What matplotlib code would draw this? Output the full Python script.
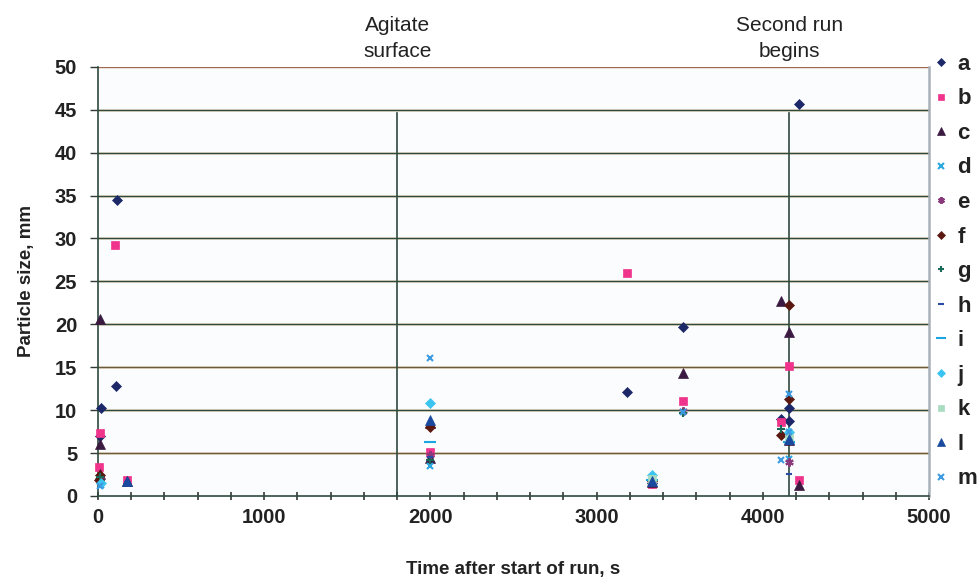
import matplotlib
matplotlib.use('Agg')
import matplotlib.pyplot as plt
from matplotlib.ticker import MultipleLocator
from matplotlib.lines import Line2D

plt.rcParams['font.family'] = ['Liberation Sans', 'DejaVu Sans']

# Series data (time s, particle size mm)
labels = ['a', 'b', 'c', 'd', 'e', 'f', 'g', 'h', 'i', 'j', 'k', 'l', 'm']

a_x = [20, 10, 110, 114, 3180, 3520, 4110, 4160, 4160, 4220, 3330]
a_y = [10.3, 7.0, 12.8, 34.5, 12.1, 19.7, 9.0, 10.3, 8.7, 45.7, 1.5]
b_x = [15, 5, 100, 175, 2000, 3180, 3520, 4110, 4160, 4220, 3330]
b_y = [7.3, 3.4, 29.2, 1.9, 5.1, 26.0, 11.1, 8.6, 15.2, 1.9, 1.4]
c_x = [15, 15, 10, 175, 2000, 2000, 3520, 4110, 4160, 4160, 4220, 3330]
c_y = [20.6, 6.1, 2.6, 1.8, 4.4, 8.5, 14.3, 22.7, 19.1, 6.5, 1.3, 1.6]
d_x = [20, 2000, 3330, 4160]
d_y = [1.3, 3.5, 2.2, 4.3]
e_x = [10, 2000, 3520, 4160]
e_y = [2.0, 4.8, 9.9, 4.0]
f_x = [15, 5, 2000, 4110, 4160, 4160, 3330]
f_y = [2.4, 1.9, 8.0, 7.1, 22.3, 11.3, 1.8]
g_x = [10, 4110, 3520, 2000]
g_y = [2.2, 7.8, 9.7, 4.2]
h_x = [4160, 175, 2000, 4160]
h_y = [6.0, 1.6, 4.6, 2.6]
i_x = [2000, 4160, 3330]
i_y = [6.3, 6.3, 1.9]
j_x = [2000, 3330, 20, 4160]
j_y = [10.8, 2.5, 1.5, 7.4]
k_x = [3330, 4160]
k_y = [2.0, 6.8]
l_x = [2000, 175, 3330, 4160]
l_y = [8.8, 1.7, 1.7, 6.6]
m_x = [2000, 4160, 4160, 4110, 3520, 10]
m_y = [16.1, 11.9, 7.5, 4.2, 9.8, 1.2]

xs = [a_x, b_x, c_x, d_x, e_x, f_x, g_x, h_x, i_x, j_x, k_x, l_x, m_x]
ys = [a_y, b_y, c_y, d_y, e_y, f_y, g_y, h_y, i_y, j_y, k_y, l_y, m_y]

# marker, colour, size
styles = [
    ('D', '#1c2868', 5.5),
    ('s', '#f0348c', 6),
    ('^', '#3a1a40', 7),
    ('x', '#2aa8e0', 5),
    ((6, 2, 0), '#8a3a7a', 6),
    ('D', '#5a1810', 5.5),
    ('+', '#1a6a5a', 6),
    ('_', '#2a4aa8', 5),
    ('_', '#1aa6e0', 9),
    ('D', '#3cc4f0', 5),
    ('s', '#a8dcc0', 6),
    ('^', '#1a4aa0', 7),
    ('x', '#3c9ae0', 5),
]

events_x = [1800, 4160]
events_text = ['Agitate\nsurface', 'Second run\nbegins']

fig = plt.figure(figsize=(9.77, 5.84), dpi=100)
ax = fig.add_axes([0.1003, 0.1507, 0.8507, 0.735])
ax.set_facecolor('#fbfcfe')

ax.set_xlim(0, 5000)
ax.set_ylim(0, 50)

# horizontal grid lines
brown_lines = [5, 15]
for yv in range(5, 50, 5):
    ax.axhline(yv, color='#ece2cc', lw=2.2, zorder=1)
    ax.axhline(yv, color='#6a5a40' if yv in brown_lines else '#2f4a3e',
               lw=1.0, zorder=1.5)
ax.axhline(50, color='#a06a50', lw=1.0, zorder=1.5)

# event lines
for ex, et in zip(events_x, events_text):
    ax.plot([ex, ex], [0, 44.6], color='#2f4a3e', lw=1.2, zorder=2)
    ax.text(ex, 50.7, et, ha='center', va='bottom', fontsize=15,
            linespacing=1.45, clip_on=False, color='#222222')

handles = []
for lab, x, y, (mk, col, ms) in zip(labels, xs, ys, styles):
    mew = 1.5 if mk in ('x', '+', '_', (6, 2, 0)) else 0.5
    ax.plot(x, y, linestyle='none', marker=mk, color=col, markersize=ms,
            markeredgewidth=mew, clip_on=False, zorder=3)
    handles.append(Line2D([], [], linestyle='none', marker=mk, color=col,
                          markersize=ms * 0.8, markeredgewidth=mew, label=lab))

ax.spines['top'].set_visible(False)
ax.spines['left'].set_color('#2f4a3e')
ax.spines['left'].set_linewidth(1.2)
ax.spines['bottom'].set_color('#2f4a3e')
ax.spines['bottom'].set_linewidth(1.2)
ax.spines['right'].set_color('#a8b0b8')
ax.spines['right'].set_linewidth(1.8)

ax.xaxis.set_major_locator(MultipleLocator(1000))
ax.xaxis.set_minor_locator(MultipleLocator(200))
ax.yaxis.set_major_locator(MultipleLocator(5))
ax.tick_params(axis='x', which='both', direction='inout', length=6, width=1.2,
               color='#2f3a36', labelsize=14.5, pad=6)
ax.tick_params(axis='y', direction='out', length=6, width=1.0,
               color='#2f3a36', labelsize=14.5, pad=9)
for t in ax.get_xticklabels() + ax.get_yticklabels():
    t.set_fontweight('bold')
    t.set_color('#222222')

ax.set_xlabel('Time after start of run, s', fontsize=13.5, fontweight='bold',
              labelpad=24, color='#222222')
ax.set_ylabel('Particle size, mm', fontsize=13.5, fontweight='bold',
              labelpad=14, color='#222222')

leg = fig.legend(handles=handles, loc='upper left', bbox_to_anchor=(0.955, 0.908),
                 frameon=False, fontsize=16, labelspacing=0.61, handlelength=0.7,
                 handletextpad=0.4, borderpad=0.0, borderaxespad=0.0)
for t in leg.get_texts():
    t.set_fontweight('bold')
    t.set_color('#222222')

fig.savefig('out.png', dpi=100, facecolor='white')
